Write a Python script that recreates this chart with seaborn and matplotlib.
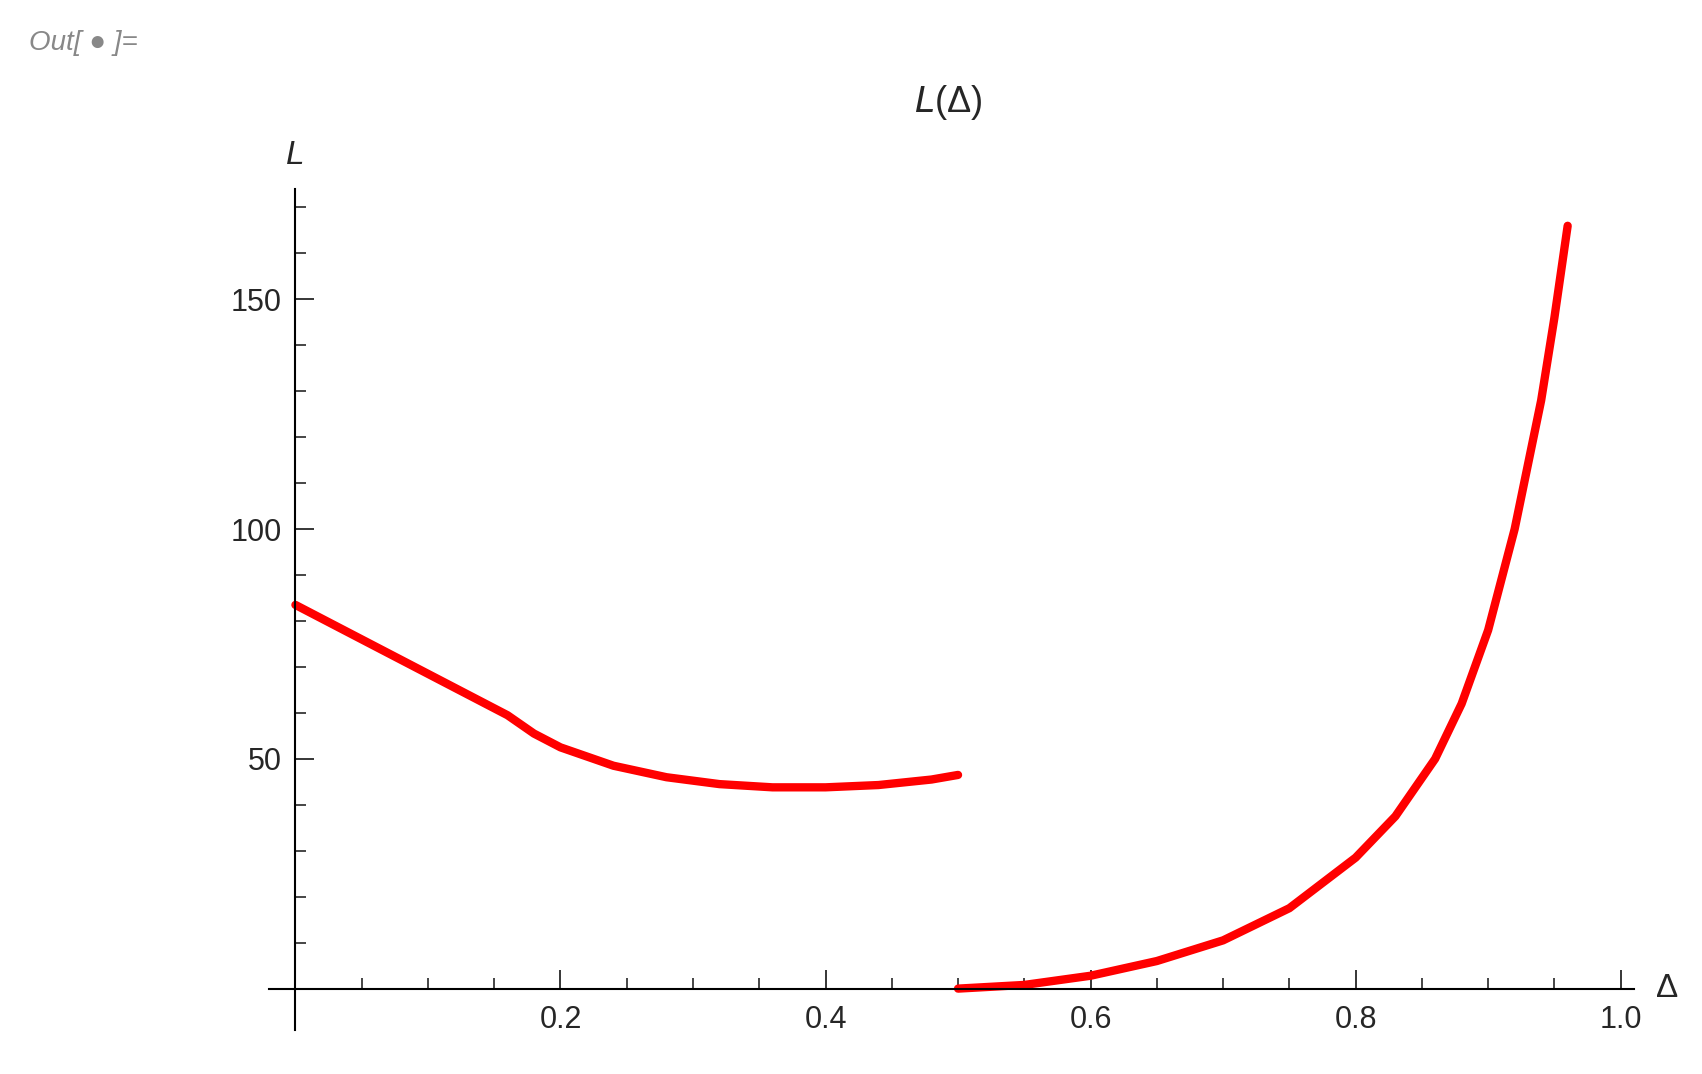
import numpy as np
import matplotlib.pyplot as plt
import seaborn as sns
from matplotlib.ticker import MultipleLocator

# left branch, Δ in [0, 0.5]
d_left = [0.0, 0.04, 0.08, 0.12, 0.16, 0.18, 0.2, 0.24, 0.28, 0.32, 0.36, 0.40, 0.44, 0.48, 0.5]
l_left = [83.5, 77.5, 71.5, 65.5, 59.5, 55.5, 52.5, 48.5, 46.0, 44.5, 43.8, 43.8, 44.3, 45.5, 46.5]
# right branch, Δ in [0.5, 0.96]
d_right = [0.5, 0.55, 0.6, 0.65, 0.7, 0.75, 0.8, 0.83, 0.86, 0.88, 0.9, 0.92, 0.94, 0.95, 0.96]
l_right = [0.0, 0.8, 2.8, 6.0, 10.5, 17.5, 28.5, 37.5, 50.0, 62.0, 78.0, 100.0, 128.0, 146.0, 166.0]

sns.set_style("white")
plt.rcParams["font.family"] = ["Liberation Sans", "DejaVu Sans"]

fig = plt.figure(figsize=(17.02, 10.74), dpi=100)
ax = fig.add_axes([0.158, 0.041, 0.802, 0.783])

sns.lineplot(x=d_left, y=l_left, color="red", lw=6, ax=ax, sort=False)
sns.lineplot(x=d_right, y=l_right, color="red", lw=6, ax=ax, sort=False)

ax.set_xlim(-0.02, 1.01)
ax.set_ylim(-9, 174)
for s in ["top", "right"]:
    ax.spines[s].set_visible(False)
ax.spines["left"].set_position(("data", 0))
ax.spines["bottom"].set_position(("data", 0))
for s in ["left", "bottom"]:
    ax.spines[s].set_linewidth(1.5)
    ax.spines[s].set_color("black")

ax.xaxis.set_major_locator(MultipleLocator(0.2))
ax.xaxis.set_minor_locator(MultipleLocator(0.05))
ax.yaxis.set_major_locator(MultipleLocator(50))
ax.yaxis.set_minor_locator(MultipleLocator(10))
ax.set_xticks([0.2, 0.4, 0.6, 0.8, 1.0])
ax.set_xticklabels(["0.2", "0.4", "0.6", "0.8", "1.0"])
ax.set_yticks([50, 100, 150])
ax.tick_params(axis="x", which="major", direction="in", length=14, width=1.3, labelsize=22, pad=12)
ax.tick_params(axis="x", which="minor", direction="in", length=8, width=1.2)
ax.tick_params(axis="y", which="major", direction="in", length=14, width=1.3, labelsize=22, pad=10)
ax.tick_params(axis="y", which="minor", direction="in", length=8, width=1.2)
ax.tick_params(bottom=True, left=True, which="both")

ax.text(0.0, 178, "L", fontsize=24, style="italic", ha="center", va="bottom")
ax.text(1.035, 0, "Δ", fontsize=24, ha="center", va="center")
fig.text(0.557, 0.905, r"$\mathit{L}$(Δ)", fontsize=26, ha="center", va="center")
fig.text(0.017, 0.96, "Out[ ● ]=", fontsize=20, color="#888888", style="italic", ha="left", va="center")

fig.savefig("out.png", dpi=100)
